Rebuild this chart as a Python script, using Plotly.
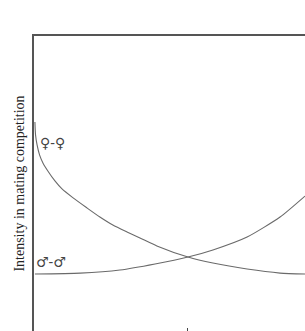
import plotly.graph_objects as go

# Female-female competition intensity (decreasing)
fem_x = [0.003, 0.005, 0.010, 0.018, 0.029, 0.045, 0.068, 0.091, 0.127, 0.172, 0.214, 0.256,
         0.302, 0.344, 0.399, 0.5, 0.581, 0.692, 0.799, 0.88]
fem_y = [0.987, 0.903, 0.838, 0.773, 0.721, 0.669, 0.604, 0.552, 0.494, 0.429, 0.370, 0.318,
         0.273, 0.234, 0.182, 0.110, 0.071, 0.032, 0.006, 0.0]

# Male-male competition intensity (increasing)
male_x = [0.003, 0.15, 0.279, 0.393, 0.5, 0.581, 0.692, 0.799, 0.88]
male_y = [0.0, 0.006, 0.026, 0.065, 0.110, 0.156, 0.240, 0.370, 0.506]

labels = ["♀-♀", "♂-♂"]
label_x = [0.060, 0.056]
label_y = [0.85, 0.078]

y_title = "Intensity in mating competition"
x_ticks = [0.5]

curve_color = "#6a6a6a"
axis_color = "#555555"
serif = "Liberation Serif, Times New Roman, DejaVu Serif, serif"

fig = go.Figure()
fig.add_trace(go.Scatter(x=fem_x, y=fem_y, mode="lines",
                         line=dict(color=curve_color, width=1.1, shape="spline", smoothing=0.6),
                         hoverinfo="skip", showlegend=False))
fig.add_trace(go.Scatter(x=male_x, y=male_y, mode="lines",
                         line=dict(color=curve_color, width=1.1, shape="spline", smoothing=0.6),
                         hoverinfo="skip", showlegend=False))
# invisible trace on top axis to draw the top frame line
fig.add_trace(go.Scatter(x=[0], y=[0], xaxis="x2", mode="markers",
                         marker=dict(opacity=0), hoverinfo="skip", showlegend=False))

for t, lx, ly in zip(labels, label_x, label_y):
    fig.add_annotation(x=lx, y=ly, text=t, showarrow=False,
                       font=dict(family="DejaVu Serif, serif", size=14, color="#444444"))

fig.add_annotation(x=-0.055, y=0.5, xref="paper", yref="paper", text=y_title,
                   textangle=-90, showarrow=False, xanchor="center", yanchor="middle",
                   font=dict(family=serif, size=14, color="#222222"))

fig.update_layout(
    width=305, height=331,
    margin=dict(l=34, r=0, t=36, b=0),
    paper_bgcolor="white", plot_bgcolor="white",
    xaxis=dict(range=[0, 0.88], showgrid=False, zeroline=False, showline=False,
               tickvals=x_ticks, ticks="inside", ticklen=3, tickcolor="#444444",
               showticklabels=False),
    xaxis2=dict(range=[0, 0.88], overlaying="x", side="top", showgrid=False,
                zeroline=False, showline=True, linecolor=axis_color, linewidth=1.5,
                ticks="", showticklabels=False),
    yaxis=dict(range=[-0.37, 1.545], showgrid=False, zeroline=False, showline=True,
               linecolor=axis_color, linewidth=1.5, ticks="", showticklabels=False),
)

fig.write_html("out.html")
